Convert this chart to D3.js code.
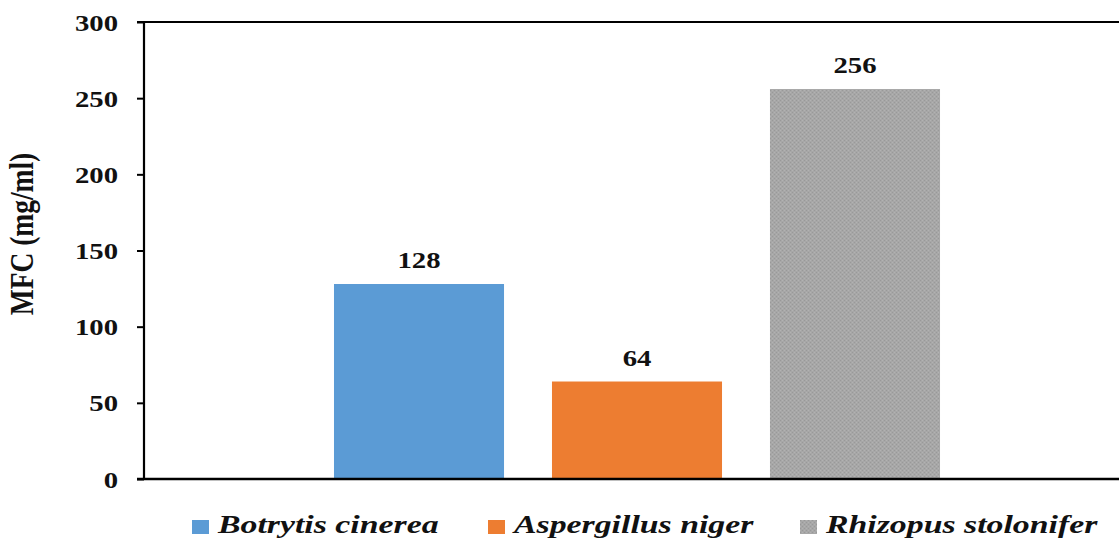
<!DOCTYPE html>
<html>
<head>
<meta charset="utf-8">
<script src="https://cdn.jsdelivr.net/npm/d3@7/dist/d3.min.js"></script>
<style>
  html, body { margin: 0; padding: 0; background: #fff; }
  svg { display: block; }
  text { font-family: "Liberation Serif", "Times New Roman", serif; font-weight: bold; fill: #111; }
</style>
</head>
<body>
<svg id="chart" width="1119" height="540"></svg>
<script>
// Minimum fungicidal concentration per fungus
const species = ["Botrytis cinerea", "Aspergillus niger", "Rhizopus stolonifer"];
const mfcValues = [128, 64, 256];
const seriesColors = ["#5B9BD5", "#ED7D31", "#A5A5A5"];
const yTicks = [0, 50, 100, 150, 200, 250, 300];
const yLabel = "MFC (mg/ml)";

const W = 1119, H = 540;
const margin = { left: 144, top: 22, bottom: 61 };
const plotRight = 1130;
const sx = 1.25; // horizontal glyph stretch used throughout

const svg = d3.select("#chart");
const defs = svg.append("defs");

// fine dotted texture for the third series
const pat = defs.append("pattern")
  .attr("id", "dots").attr("patternUnits", "userSpaceOnUse")
  .attr("width", 4).attr("height", 4);
pat.append("rect").attr("width", 4).attr("height", 4).attr("fill", "#a7a7a7");
pat.append("rect").attr("x", 0).attr("y", 0).attr("width", 1).attr("height", 1).attr("fill", "#999");
pat.append("rect").attr("x", 2).attr("y", 2).attr("width", 1).attr("height", 1).attr("fill", "#999");
pat.append("rect").attr("x", 2).attr("y", 0).attr("width", 1).attr("height", 1).attr("fill", "#b2b2b2");
pat.append("rect").attr("x", 0).attr("y", 2).attr("width", 1).attr("height", 1).attr("fill", "#b2b2b2");

const fills = species.map((s, i) => i === 2 ? "url(#dots)" : seriesColors[i]);

const y = d3.scaleLinear().domain([0, 300]).range([H - margin.bottom, margin.top]);

// one category, three clustered bars
const x0 = d3.scaleBand().domain(["MFC"]).range([margin.left, plotRight]).paddingInner(0).paddingOuter(0.3135);
const x = d3.scaleBand().domain(species).range([x0("MFC"), x0("MFC") + x0.bandwidth()]).paddingInner(0.22).paddingOuter(0);

// bars
svg.append("g").selectAll("rect")
  .data(species)
  .join("rect")
  .attr("x", d => x(d))
  .attr("y", (d, i) => y(mfcValues[i]))
  .attr("width", x.bandwidth())
  .attr("height", (d, i) => y(0) - y(mfcValues[i]))
  .attr("fill", (d, i) => fills[i]);

// value labels
svg.append("g").selectAll("text")
  .data(species)
  .join("text")
  .attr("transform", (d, i) => `translate(${x(d) + x.bandwidth() / 2},${y(mfcValues[i]) - 16}) scale(${sx},1)`)
  .attr("text-anchor", "middle")
  .style("font-size", "23px")
  .text((d, i) => mfcValues[i]);

// y axis
const yAxis = d3.axisLeft(y).tickValues(yTicks).tickSize(7).tickPadding(0).tickFormat(d3.format("d"));
const gy = svg.append("g").attr("transform", `translate(${margin.left},0)`).call(yAxis);
gy.select(".domain").remove();
gy.selectAll(".tick line").attr("stroke", "#000").attr("stroke-width", 2);
gy.selectAll(".tick text")
  .attr("x", null).attr("dy", null)
  .attr("transform", `translate(-26,8) scale(${sx},1)`)
  .attr("text-anchor", "end")
  .style("font-size", "23px")
  .style("font-family", "'Liberation Serif', serif")
  .style("font-weight", "bold")
  .attr("fill", "#111");

// frame lines: left axis, top and bottom
svg.append("line")
  .attr("x1", margin.left).attr("x2", margin.left)
  .attr("y1", y(300) - 1).attr("y2", y(0) + 1)
  .attr("stroke", "#000").attr("stroke-width", 2.2);
svg.append("line")
  .attr("x1", margin.left - 7).attr("x2", W)
  .attr("y1", y(300)).attr("y2", y(300))
  .attr("stroke", "#000").attr("stroke-width", 2);
svg.append("line")
  .attr("x1", margin.left - 7).attr("x2", W)
  .attr("y1", y(0)).attr("y2", y(0))
  .attr("stroke", "#000").attr("stroke-width", 2.6);

// y axis title
svg.append("text")
  .attr("transform", `translate(33,234) scale(${sx},1) rotate(-90)`)
  .attr("text-anchor", "middle")
  .style("font-size", "27.5px")
  .text(yLabel);

// legend
const legendX = [192, 488, 800];
const legend = svg.append("g").selectAll("g")
  .data(species)
  .join("g")
  .attr("transform", (d, i) => `translate(${legendX[i]},0)`);
legend.append("rect")
  .attr("x", 0).attr("y", 520).attr("width", 17).attr("height", 14)
  .attr("fill", (d, i) => fills[i]);
legend.append("text")
  .attr("transform", `translate(26,533) scale(1.3,1)`)
  .style("font-size", "26px")
  .style("font-style", "italic")
  .text(d => d);
</script>
</body>
</html>
